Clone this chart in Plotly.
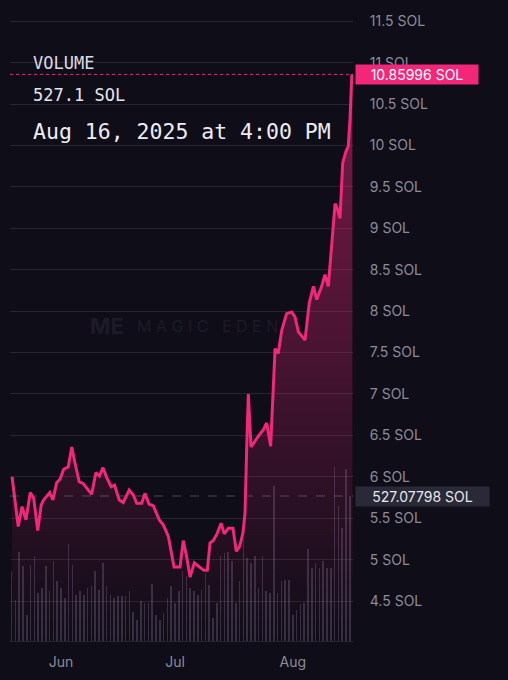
import plotly.graph_objects as go
import pandas as pd

# ---- data ----
price_times = [
    "2025-05-19 03:00", "2025-05-20 18:00", "2025-05-21 18:00", "2025-05-22 19:00",
    "2025-05-23 22:00", "2025-05-24 20:00", "2025-05-25 21:00", "2025-05-26 19:00",
    "2025-05-27 10:00", "2025-05-29 01:00", "2025-05-29 21:00", "2025-05-30 21:00",
    "2025-05-31 18:00", "2025-06-01 17:00", "2025-06-02 22:00", "2025-06-03 20:00",
    "2025-06-04 16:00", "2025-06-05 19:00", "2025-06-06 19:00", "2025-06-09 02:00",
    "2025-06-10 04:00", "2025-06-11 03:00", "2025-06-12 01:00", "2025-06-13 01:00",
    "2025-06-14 05:00", "2025-06-15 02:00", "2025-06-16 08:00", "2025-06-17 09:00",
    "2025-06-18 23:00", "2025-06-20 01:00", "2025-06-20 22:00", "2025-06-22 06:00",
    "2025-06-23 02:00", "2025-06-24 04:00", "2025-06-25 07:00", "2025-06-26 21:00",
    "2025-06-27 22:00", "2025-06-29 06:00", "2025-06-30 18:00", "2025-07-02 08:00",
    "2025-07-03 04:00", "2025-07-04 02:00", "2025-07-04 23:00", "2025-07-06 02:00",
    "2025-07-07 11:00", "2025-07-08 15:00", "2025-07-09 12:00", "2025-07-10 05:00",
    "2025-07-11 02:00", "2025-07-12 01:00", "2025-07-13 03:00", "2025-07-13 23:00",
    "2025-07-15 01:00", "2025-07-16 06:00", "2025-07-17 03:00", "2025-07-18 00:00",
    "2025-07-18 21:00", "2025-07-19 10:00", "2025-07-19 21:00", "2025-07-20 07:00",
    "2025-07-21 00:00", "2025-07-22 01:00", "2025-07-22 22:00", "2025-07-24 06:00",
    "2025-07-25 03:00", "2025-07-26 04:00", "2025-07-26 17:00", "2025-07-27 08:00",
    "2025-07-28 04:00", "2025-07-29 02:00", "2025-07-30 09:00", "2025-07-31 17:00",
    "2025-08-01 14:00", "2025-08-02 11:00", "2025-08-04 05:00", "2025-08-05 08:00",
    "2025-08-06 10:00", "2025-08-07 07:00", "2025-08-08 14:00", "2025-08-09 11:00",
    "2025-08-10 08:00", "2025-08-11 06:00", "2025-08-12 03:00", "2025-08-12 17:00",
    "2025-08-13 10:00", "2025-08-14 03:00", "2025-08-15 00:00", "2025-08-15 14:00",
    "2025-08-16 01:00", "2025-08-16 12:00", "2025-08-16 16:00",
]
price_values = [
    6.00, 5.40, 5.64, 5.48, 5.81, 5.74, 5.35, 5.66, 5.72, 5.81, 5.72, 5.93,
    5.97, 6.09, 6.12, 6.36, 6.17, 5.94, 5.92, 5.79, 6.05, 6.01, 6.11, 5.99,
    5.88, 5.90, 5.72, 5.69, 5.84, 5.78, 5.68, 5.68, 5.80, 5.67, 5.65, 5.48,
    5.42, 5.28, 4.91, 4.91, 5.23, 5.03, 4.79, 4.96, 4.91, 4.87, 4.87, 5.20,
    5.23, 5.31, 5.44, 5.31, 5.38, 5.38, 5.10, 5.16, 5.32, 5.56, 6.36, 7.00,
    6.36, 6.44, 6.49, 6.57, 6.65, 6.37, 6.89, 7.55, 7.49, 7.77, 7.97, 7.99,
    7.93, 7.75, 7.65, 8.10, 8.30, 8.14, 8.30, 8.44, 8.30, 8.78, 9.30, 9.24,
    9.12, 9.79, 9.93, 9.99, 10.31, 10.83, 10.85996,
]

volume_days = pd.date_range("2025-05-19", "2025-08-16", freq="D")
volume_values = [
    254, 150, 323, 272, 95, 278, 309, 174, 193, 272,
    181, 290, 217, 193, 156, 351, 275, 168, 181, 168,
    193, 199, 256, 187, 284, 199, 168, 156, 162, 162,
    162, 181, 107, 77, 144, 138, 138, 209, 95, 77,
    101, 156, 199, 138, 181, 254, 235, 193, 181, 168,
    187, 248, 205, 83, 138, 309, 321, 323, 290, 138,
    217, 370, 303, 284, 309, 193, 309, 181, 174, 565,
    174, 217, 223, 223, 95, 113, 135, 138, 333, 266,
    282, 266, 290, 266, 266, 632, 492, 412, 626, 527.07798,
]

price_ticks = [4.5, 5, 5.5, 6, 6.5, 7, 7.5, 8, 8.5, 9, 9.5, 10, 10.5, 11, 11.5]
price_tick_text = ["4.5 SOL", "5 SOL", "5.5 SOL", "6 SOL", "6.5 SOL", "7 SOL", "7.5 SOL",
                   "8 SOL", "8.5 SOL", "9 SOL", "9.5 SOL", "10 SOL", "10.5 SOL",
                   "11 SOL", "11.5 SOL"]

last_price = price_values[-1]
last_volume = volume_values[-1]

BG = "#0f0d18"
PINK = "#f2277a"
GRID = "#27242f"
TICK = "#8d8b98"

fig = go.Figure()

fig.add_trace(go.Bar(
    x=volume_days, y=volume_values, yaxis="y",
    marker=dict(color="rgba(150,138,168,0.28)", line=dict(width=0)),
    width=0.42 * 86400000, hoverinfo="skip", showlegend=False,
))

fig.add_trace(go.Scatter(
    x=price_times, y=price_values, yaxis="y2", mode="lines",
    line=dict(color=PINK, width=3),
    fill="tozeroy",
    fillgradient=dict(type="vertical",
                      colorscale=[[0, "rgba(242,39,122,0)"], [1, "rgba(242,39,122,0.5)"]],
                      start=4.0, stop=11.0),
    hoverinfo="skip", showlegend=False,
))

fig.update_layout(
    width=508, height=680,
    margin=dict(l=10, r=155, t=0, b=39),
    paper_bgcolor=BG, plot_bgcolor=BG,
    bargap=0,
    xaxis=dict(
        type="date", range=["2025-05-18 14:00", "2025-08-16 20:00"],
        showgrid=False, zeroline=False,
        showline=True, linecolor=GRID, linewidth=1,
        dtick="M1", tick0="2025-06-01", tickformat="%b",
        ticks="outside", ticklen=8, tickcolor="rgba(0,0,0,0)",
        tickfont=dict(family="Inter, Roboto, sans-serif", size=14, color=TICK),
    ),
    yaxis=dict(range=[0, 2330], visible=False, showgrid=False, fixedrange=True),
    yaxis2=dict(
        overlaying="y", side="right",
        range=[4.017, 11.758],
        tickvals=price_ticks, ticktext=price_tick_text,
        showgrid=True, gridcolor=GRID, gridwidth=1, zeroline=False,
        ticks="outside", ticklen=13, tickcolor="rgba(0,0,0,0)",
        tickfont=dict(family="Inter, Roboto, sans-serif", size=14, color=TICK),
    ),
    shapes=[
        dict(type="line", xref="paper", x0=0, x1=1, yref="y2", y0=last_price, y1=last_price,
             line=dict(color=PINK, width=1, dash="dot"), layer="below"),
        dict(type="line", xref="paper", x0=0, x1=1, yref="y", y0=last_volume, y1=last_volume,
             line=dict(color="rgba(150,140,165,0.45)", width=1, dash="dash"), layer="below"),
    ],
)

mono = "DejaVu Sans Mono, Liberation Mono, monospace"
annotations = [
    dict(text="VOLUME", x=0.061, y=0.9017, font=dict(family=mono, size=17, color="#dcdae4")),
    dict(text=f"{last_volume:.1f} SOL", x=0.061, y=0.8518,
         font=dict(family=mono, size=17, color="#e6e4ec")),
    dict(text="Aug 16, 2025 at 4:00 PM", x=0.061, y=0.7956,
         font=dict(family=mono, size=21.5, color="#eeecf3")),
    dict(text="M A G I C   E D E N", x=0.365, y=0.4914,
         font=dict(family="Inter, sans-serif", size=16, color="#1d1b28")),
    dict(text="<b>ME</b>", x=0.228, y=0.4914,
         font=dict(family="Inter, sans-serif", size=22, color="#1d1b28")),
]
for a in annotations:
    a.update(xref="paper", yref="paper", xanchor="left", yanchor="middle",
             showarrow=False)
    fig.add_annotation(**a)

fig.add_annotation(
    text=f"{last_price:.5f} SOL", xref="paper", x=1, xshift=2, yref="y2", y=last_price,
    xanchor="left", yanchor="middle", showarrow=False,
    bgcolor=PINK, borderpad=1, width=120, height=17, align="center",
    font=dict(family="Inter, Roboto, sans-serif", size=14, color="#ffffff"),
)
fig.add_annotation(
    text=f"{last_volume:.5f} SOL", xref="paper", x=1, xshift=2, yref="y", y=last_volume,
    xanchor="left", yanchor="middle", showarrow=False,
    bgcolor="#2a2937", borderpad=1, width=131, height=17, align="center",
    font=dict(family="Inter, Roboto, sans-serif", size=14, color="#e8e6ef"),
)

fig.write_html(
    "out.html",
    config={"displayModeBar": False},
    post_script="document.body.style.margin='0';document.body.style.background='#0f0d18';",
)
